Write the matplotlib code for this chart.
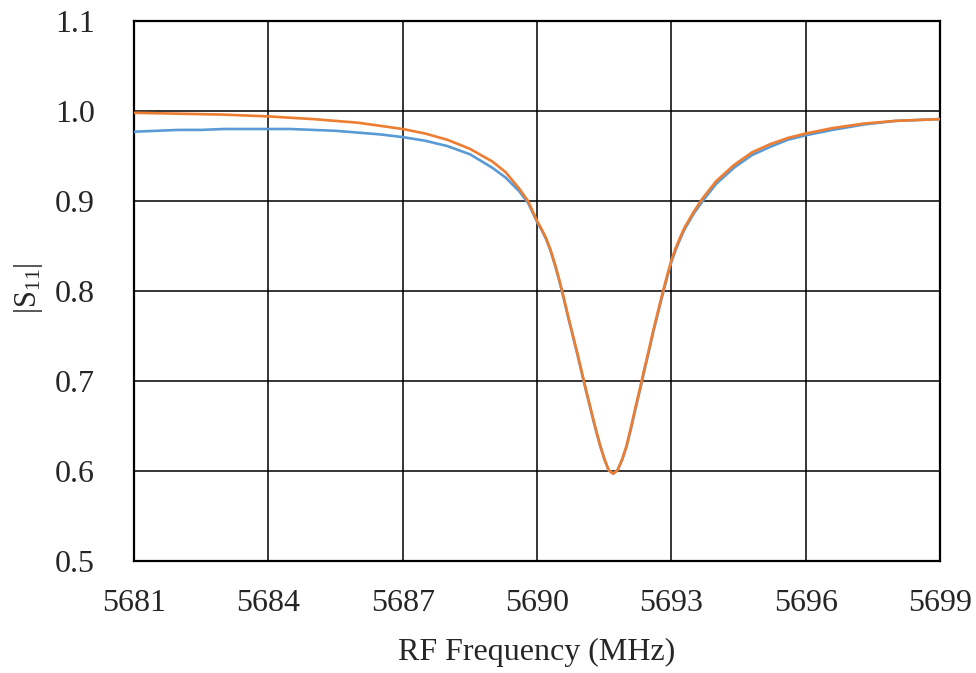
import matplotlib.pyplot as plt

plt.rcParams['font.family'] = ['Liberation Serif', 'DejaVu Serif']
plt.rcParams['mathtext.fontset'] = 'custom'
plt.rcParams['mathtext.rm'] = 'Liberation Serif'

# DATA

# measured |S11| (blue)
meas_freq = [5681.0, 5681.5, 5682.0, 5682.5, 5683.0, 5683.5, 5684.0, 5684.5, 5685.0,
             5685.5, 5686.0, 5686.5, 5687.0, 5687.5, 5688.0, 5688.5, 5689.0, 5689.3,
             5689.6, 5689.8, 5690.0, 5690.1, 5690.2, 5690.3, 5690.4, 5690.5, 5690.6,
             5690.7, 5690.8, 5690.9, 5691.0, 5691.1, 5691.2, 5691.3, 5691.4, 5691.5,
             5691.6, 5691.7, 5691.8, 5691.9, 5692.0, 5692.1, 5692.2, 5692.3, 5692.4,
             5692.5, 5692.6, 5692.7, 5692.8, 5692.9, 5693.0, 5693.1, 5693.2, 5693.3,
             5693.5, 5693.7, 5694.0, 5694.4, 5694.8, 5695.2, 5695.6, 5696.0, 5696.6,
             5697.3, 5698.0, 5699.0]
meas_s11 = [0.977, 0.978, 0.979, 0.979, 0.980, 0.980, 0.980, 0.980, 0.979,
            0.978, 0.976, 0.974, 0.971, 0.967, 0.961, 0.952, 0.937, 0.926,
            0.911, 0.898, 0.877, 0.868, 0.858, 0.845, 0.829, 0.811, 0.791,
            0.770, 0.750, 0.730, 0.709, 0.688, 0.668, 0.648, 0.630, 0.614,
            0.601, 0.597, 0.601, 0.612, 0.627, 0.647, 0.669, 0.690, 0.712,
            0.733, 0.755, 0.775, 0.795, 0.814, 0.832, 0.846, 0.858, 0.869,
            0.886, 0.900, 0.919, 0.937, 0.951, 0.960, 0.968, 0.973, 0.979,
            0.985, 0.989, 0.991]

# fitted |S11| (orange)
fit_freq = [5681.0, 5682.0, 5683.0, 5684.0, 5685.0, 5686.0, 5687.0, 5687.5, 5688.0,
            5688.5, 5689.0, 5689.3, 5689.6, 5689.8, 5690.0, 5690.1, 5690.2, 5690.3,
            5690.4, 5690.5, 5690.6, 5690.7, 5690.8, 5690.9, 5691.0, 5691.1, 5691.2,
            5691.3, 5691.4, 5691.5, 5691.6, 5691.7, 5691.8, 5691.9, 5692.0, 5692.1,
            5692.2, 5692.3, 5692.4, 5692.5, 5692.6, 5692.7, 5692.8, 5692.9, 5693.0,
            5693.1, 5693.2, 5693.3, 5693.5, 5693.7, 5694.0, 5694.4, 5694.8, 5695.2,
            5695.6, 5696.0, 5696.6, 5697.3, 5698.0, 5699.0]
fit_s11 = [0.998, 0.997, 0.996, 0.994, 0.991, 0.987, 0.980, 0.975, 0.968,
           0.958, 0.944, 0.932, 0.914, 0.900, 0.878, 0.869, 0.859, 0.846,
           0.830, 0.812, 0.792, 0.771, 0.751, 0.731, 0.710, 0.689, 0.669,
           0.649, 0.630, 0.614, 0.601, 0.597, 0.601, 0.613, 0.628, 0.649,
           0.671, 0.692, 0.714, 0.735, 0.757, 0.777, 0.797, 0.816, 0.834,
           0.848, 0.860, 0.871, 0.888, 0.903, 0.922, 0.940, 0.954, 0.963,
           0.970, 0.975, 0.981, 0.986, 0.989, 0.991]

x_ticks = [5681, 5684, 5687, 5690, 5693, 5696, 5699]
y_ticks = [0.5, 0.6, 0.7, 0.8, 0.9, 1.0, 1.1]

# PLOT

fig = plt.figure(figsize=(9.76, 6.73), dpi=100)
ax = fig.add_axes([0.1373, 0.1664, 0.8258, 0.8024])

ax.plot(meas_freq, meas_s11, color='#5B9BD5', linewidth=1.9, zorder=3)
ax.plot(fit_freq, fit_s11, color='#ED7D31', linewidth=1.9, zorder=4)

ax.set_xlim(5681, 5699)
ax.set_ylim(0.5, 1.1)
ax.set_xticks(x_ticks)
ax.set_yticks(y_ticks)
ax.set_yticklabels([f"{v:.1f}" for v in y_ticks])
ax.tick_params(length=0, labelsize=23, colors='#262626')
ax.tick_params(axis='x', pad=20)
ax.tick_params(axis='y', pad=28)

ax.grid(True, color='black', linewidth=1.1)
ax.set_axisbelow(True)
for sp in ax.spines.values():
    sp.set_color('black')
    sp.set_linewidth(1.6)

ax.set_xlabel('RF Frequency (MHz)', fontsize=23, color='#262626', va='center')
ax.xaxis.set_label_coords(0.5, -0.1685)
ax.set_ylabel(r'$\mathregular{|S_{11}|}$', fontsize=22, color='#262626', va='center')
ax.yaxis.set_label_coords(-0.131, 0.505)

fig.savefig('out.png', dpi=100)
